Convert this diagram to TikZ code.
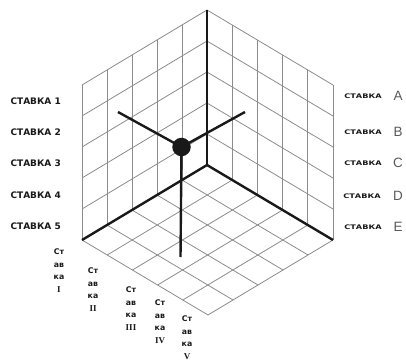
\documentclass[tikz,border=0pt]{standalone}
\usepackage{fontspec}
\usetikzlibrary{calc}
\setmainfont{Liberation Sans}
\newfontfamily\numfont{Liberation Serif}
\newfontfamily\heavyfont{DejaVu Sans}
\begin{document}
\begin{tikzpicture}[x=1pt,y=-1pt,
  gridline/.style={draw=black!45, line width=0.8pt},
  axisline/.style={draw=black!90, line width=2.4pt},
  leftlab/.style={font=\heavyfont\bfseries\fontsize{9}{9}\selectfont, anchor=east, text=black!90, inner sep=0pt},
  rightlab/.style={font=\heavyfont\bfseries\fontsize{6.3}{6.3}\selectfont, text=black!90, inner sep=0pt},
  letlab/.style={font=\fontsize{13.5}{13.5}\selectfont, text=black!65, inner sep=0pt},
  botlab/.style={font=\heavyfont\bfseries\fontsize{7.8}{12.7}\selectfont, text=black!90, inner sep=0pt, align=center, anchor=north},
  numtxt/.style={font=\numfont\bfseries\fontsize{9}{12.7}\selectfont},
  ball/.style={circle, fill=black!90, minimum size=18.5pt, inner sep=0pt}
]
\useasboundingbox (0,0) rectangle (406,363);
% origin and unit vectors
\coordinate (O) at (207,165);
\def\ex{-25}\def\exy{15}
\def\ey{25.2}\def\eyy{15}
\def\ez{31}
% left wall
\foreach \i in {0,...,5} {
  \draw[gridline] ($(O)+(\i*\ex,\i*\exy)$) -- ++(0,-5*\ez);
}
\foreach \k in {0,...,5} {
  \draw[gridline] ($(O)+(0,-\k*\ez)$) -- ++(5*\ex,5*\exy);
}
% right wall
\foreach \j in {0,...,5} {
  \draw[gridline] ($(O)+(\j*\ey,\j*\eyy)$) -- ++(0,-5*\ez);
}
\foreach \k in {0,...,5} {
  \draw[gridline] ($(O)+(0,-\k*\ez)$) -- ++(5*\ey,5*\eyy);
}
% floor
\foreach \i in {0,...,5} {
  \draw[gridline] ($(O)+(\i*\ex,\i*\exy)$) -- ++(5*\ey,5*\eyy);
}
\foreach \j in {0,...,5} {
  \draw[gridline] ($(O)+(\j*\ey,\j*\eyy)$) -- ++(5*\ex,5*\exy);
}
% axes
\coordinate (top) at (207,10);
\coordinate (lft) at (82,240);
\coordinate (rgt) at (333,240);
\draw[axisline] (O) -- (top);
\draw[axisline] (O) -- (lft);
\draw[axisline] (O) -- (rgt);
% point with projections
\node[ball] (pt) at (181.5,147) {};
\coordinate (pul) at (118,112);
\coordinate (pur) at (245,112);
\coordinate (pdn) at (180.5,257);
\draw[axisline] (pt.center) -- (pul);
\draw[axisline] (pt.center) -- (pur);
\draw[axisline] (pt.center) -- (pdn);
% left labels
\node[leftlab] (l1) at (61,101) {СТАВКА 1};
\node[leftlab] (l2) at (61,132) {СТАВКА 2};
\node[leftlab] (l3) at (61,163) {СТАВКА 3};
\node[leftlab] (l4) at (61,195) {СТАВКА 4};
\node[leftlab] (l5) at (61,226) {СТАВКА 5};
% right labels
\node[rightlab] (r1) at (363,96) {\scalebox{1.3}[1]{СТАВКА}};
\node[rightlab] (r2) at (363,132) {\scalebox{1.3}[1]{СТАВКА}};
\node[rightlab] (r3) at (363,163) {\scalebox{1.3}[1]{СТАВКА}};
\node[rightlab] (r4) at (362,196) {\scalebox{1.3}[1]{СТАВКА}};
\node[rightlab] (r5) at (363,227) {\scalebox{1.3}[1]{СТАВКА}};
\node[letlab] (a1) at (398,96) {A};
\node[letlab] (a2) at (398,132) {B};
\node[letlab] (a3) at (398,163) {C};
\node[letlab] (a4) at (398,196) {D};
\node[letlab] (a5) at (398,227) {E};
% bottom labels
\node[botlab] (s1) at (59,248.5) {Ст\\ав\\ка\\{\numfont\bfseries\fontsize{9}{12.7}\selectfont I}};
\node[botlab] (s2) at (93,267.5) {Ст\\ав\\ка\\{\numfont\bfseries\fontsize{9}{12.7}\selectfont II}};
\node[botlab] (s3) at (131,286.5) {Ст\\ав\\ка\\{\numfont\bfseries\fontsize{9}{12.7}\selectfont III}};
\node[botlab] (s4) at (160,299.5) {Ст\\ав\\ка\\{\numfont\bfseries\fontsize{9}{12.7}\selectfont IV}};
\node[botlab] (s5) at (187,315.5) {Ст\\ав\\ка\\{\numfont\bfseries\fontsize{9}{12.7}\selectfont V}};
\end{tikzpicture}
\end{document}
